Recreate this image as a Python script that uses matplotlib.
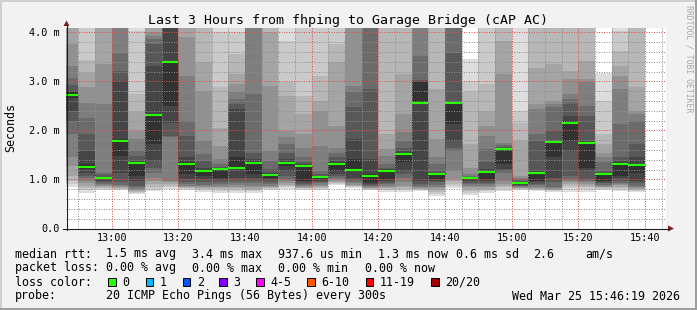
import matplotlib
matplotlib.use("Agg")
import matplotlib.pyplot as plt
from matplotlib.patches import Rectangle, Polygon
from matplotlib.ticker import FixedLocator, MultipleLocator
import numpy as np

plt.rcParams['font.family'] = 'DejaVu Sans Mono'

W, H = 697, 310

title = "Last 3 Hours from fhping to Garage Bridge (cAP AC)"

# one 5 minute slot per bar, first slot starts 12:45 (only partly shown)
first_slot = "12:45"
slot_minutes = 5
view_start = "12:46:19"
view_end = "15:46:19"

# the 20 sorted ping rtts of every slot, in ms (4.5 = above the top of the chart)
pings = [
    [0.84, 0.90, 0.97, 1.07, 1.28, 1.45, 1.92, 2.20, 2.40, 2.66, 2.78, 2.81, 2.93, 3.08, 3.32, 3.76, 4.5, 4.5, 4.5, 4.5],  # 12:45
    [0.73, 0.78, 0.82, 0.87, 0.92, 0.97, 1.03, 1.07, 1.14, 1.21, 1.31, 1.58, 1.92, 2.26, 2.57, 2.88, 3.18, 3.43, 4.5, 4.5],
    [0.79, 0.80, 0.82, 0.84, 0.86, 0.88, 0.90, 0.94, 0.97, 1.00, 1.04, 1.06, 1.09, 1.14, 2.54, 3.35, 4.5, 4.5, 4.5, 4.5],
    [0.78, 0.80, 0.81, 0.82, 0.84, 0.86, 0.89, 0.94, 1.14, 1.48, 1.82, 3.01, 3.22, 3.59, 4.5, 4.5, 4.5, 4.5, 4.5, 4.5],  # 13:00
    [0.70, 0.73, 0.75, 0.77, 0.78, 0.80, 0.84, 0.87, 0.97, 1.07, 1.33, 1.38, 1.48, 1.58, 1.82, 1.99, 2.37, 2.74, 4.03, 4.5],
    [0.77, 0.80, 0.85, 0.90, 0.97, 1.04, 1.14, 1.24, 1.38, 1.72, 2.33, 3.32, 3.76, 3.86, 3.93, 4.00, 4.5, 4.5, 4.5, 4.5],
    [0.80, 0.84, 0.87, 0.90, 0.94, 0.97, 1.86, 1.89, 2.16, 2.50, 3.39, 4.5, 4.5, 4.5, 4.5, 4.5, 4.5, 4.5, 4.5, 4.5],
    [0.78, 0.80, 0.82, 0.84, 0.85, 0.87, 0.90, 0.94, 1.01, 1.11, 1.35, 1.45, 1.89, 2.20, 3.11, 3.90, 4.5, 4.5, 4.5, 4.5],  # 13:20
    [0.75, 0.78, 0.80, 0.82, 0.84, 0.86, 0.89, 0.94, 1.00, 1.07, 1.20, 1.24, 1.38, 1.52, 1.79, 2.81, 3.39, 4.5, 4.5, 4.5],
    [0.73, 0.77, 0.80, 0.82, 0.85, 0.87, 0.90, 0.94, 0.99, 1.04, 1.20, 1.22, 1.26, 1.31, 1.41, 1.69, 2.06, 2.88, 4.00, 4.5],
    [0.73, 0.77, 0.80, 0.82, 0.85, 0.88, 0.92, 0.97, 1.04, 1.21, 1.45, 2.43, 2.54, 2.64, 2.78, 2.95, 3.15, 3.56, 4.00, 4.5],
    [0.73, 0.76, 0.78, 0.81, 0.84, 0.87, 0.92, 0.97, 1.04, 1.11, 1.33, 1.41, 1.55, 2.74, 4.5, 4.5, 4.5, 4.5, 4.5, 4.5],  # 13:40
    [0.78, 0.80, 0.82, 0.84, 0.85, 0.87, 0.90, 0.94, 0.99, 1.03, 1.11, 1.14, 1.21, 1.38, 1.58, 2.91, 4.00, 4.5, 4.5, 4.5],
    [0.80, 0.84, 0.86, 0.89, 0.92, 0.96, 1.00, 1.07, 1.18, 1.28, 1.36, 1.41, 1.55, 1.72, 1.86, 1.99, 2.71, 2.98, 3.83, 4.5],
    [0.79, 0.80, 0.82, 0.83, 0.84, 0.86, 0.88, 0.90, 0.94, 0.97, 1.26, 1.31, 1.35, 1.45, 1.65, 1.92, 2.33, 2.71, 4.5, 4.5],
    [0.79, 0.81, 0.83, 0.85, 0.87, 0.89, 0.92, 0.95, 0.97, 1.00, 1.05, 1.07, 1.11, 1.18, 1.69, 2.40, 2.60, 3.11, 4.5, 4.5],  # 14:00
    [0.88, 0.91, 0.93, 0.95, 0.97, 1.00, 1.03, 1.07, 1.12, 1.18, 1.31, 1.38, 1.45, 1.55, 1.65, 2.09, 3.39, 3.76, 4.5, 4.5],
    [0.83, 0.84, 0.86, 0.87, 0.89, 0.92, 0.95, 0.99, 1.04, 1.18, 1.41, 1.82, 2.47, 2.78, 2.91, 4.5, 4.5, 4.5, 4.5, 4.5],
    [0.78, 0.79, 0.80, 0.82, 0.83, 0.84, 0.86, 0.88, 0.90, 0.94, 1.11, 1.41, 2.84, 4.5, 4.5, 4.5, 4.5, 4.5, 4.5, 4.5],
    [0.75, 0.78, 0.80, 0.82, 0.84, 0.87, 0.90, 0.93, 0.97, 1.00, 1.18, 1.21, 1.24, 1.31, 1.48, 1.62, 1.92, 4.5, 4.5, 4.5],  # 14:20
    [0.75, 0.78, 0.81, 0.84, 0.87, 0.94, 1.04, 1.11, 1.18, 1.35, 1.53, 1.58, 1.65, 1.79, 1.96, 2.33, 3.15, 4.5, 4.5, 4.5],
    [0.76, 0.78, 0.80, 0.81, 0.83, 0.85, 0.87, 0.90, 0.97, 2.54, 2.98, 3.00, 3.03, 3.52, 4.5, 4.5, 4.5, 4.5, 4.5, 4.5],
    [0.67, 0.71, 0.75, 0.79, 0.82, 0.85, 0.89, 0.94, 0.97, 1.00, 1.11, 1.14, 1.18, 1.31, 1.45, 1.82, 2.84, 4.5, 4.5, 4.5],
    [0.82, 0.86, 0.90, 0.96, 1.00, 1.18, 1.58, 1.65, 1.79, 2.13, 2.55, 2.56, 3.59, 4.5, 4.5, 4.5, 4.5, 4.5, 4.5, 4.5],  # 14:40
    [0.69, 0.73, 0.77, 0.80, 0.84, 0.87, 0.90, 0.93, 0.96, 0.99, 1.03, 1.04, 1.05, 1.07, 1.12, 1.24, 1.72, 2.78, 3.01, 3.45],
    [0.73, 0.76, 0.79, 0.81, 0.84, 0.86, 0.90, 0.93, 0.97, 1.00, 1.16, 1.21, 1.35, 1.62, 1.89, 2.09, 2.40, 2.95, 4.5, 4.5],
    [0.77, 0.80, 0.84, 0.86, 0.90, 0.97, 1.14, 1.18, 1.21, 1.31, 1.61, 1.64, 1.67, 1.71, 1.75, 3.15, 3.83, 4.5, 4.5, 4.5],
    [0.78, 0.80, 0.81, 0.82, 0.83, 0.84, 0.86, 0.87, 0.88, 0.90, 0.93, 0.95, 0.97, 1.00, 1.03, 1.07, 1.79, 2.16, 2.40, 4.5],  # 15:00
    [0.77, 0.78, 0.80, 0.81, 0.83, 0.85, 0.88, 0.90, 0.94, 0.97, 1.13, 1.18, 1.79, 1.92, 2.43, 2.54, 3.28, 4.5, 4.5, 4.5],
    [0.75, 0.76, 0.78, 0.79, 0.80, 0.82, 0.84, 0.94, 1.04, 1.45, 1.75, 1.79, 1.99, 2.47, 2.54, 2.60, 3.35, 4.5, 4.5, 4.5],
    [0.75, 0.82, 0.86, 0.90, 0.94, 0.97, 1.00, 1.07, 1.58, 1.79, 2.20, 2.30, 2.54, 2.64, 2.74, 3.05, 3.22, 4.5, 4.5, 4.5],
    [0.75, 0.80, 0.84, 0.87, 0.90, 0.94, 0.97, 1.00, 1.18, 1.24, 1.75, 1.79, 2.30, 2.50, 2.98, 3.05, 3.42, 4.5, 4.5, 4.5],  # 15:20
    [0.79, 0.80, 0.82, 0.84, 0.85, 0.87, 0.89, 0.92, 0.95, 0.97, 1.12, 1.14, 1.18, 1.35, 1.45, 1.55, 1.72, 1.92, 2.60, 3.18],
    [0.77, 0.80, 0.82, 0.85, 0.88, 0.90, 0.93, 0.97, 1.03, 1.07, 1.33, 1.38, 1.45, 2.13, 2.84, 3.11, 3.32, 3.63, 4.03, 4.5],
    [0.75, 0.77, 0.78, 0.80, 0.82, 0.84, 0.87, 0.92, 0.97, 1.14, 1.31, 1.45, 1.72, 2.20, 2.33, 2.40, 2.88, 4.5, 4.5, 4.5],  # 15:35
]

median = [2.72, 1.25, 1.03, 1.78, 1.34, 2.32, 3.39, 1.32, 1.18, 1.21, 1.24, 1.34,
          1.09, 1.34, 1.28, 1.05, 1.32, 1.20, 1.07, 1.18, 1.52, 2.56, 1.11, 2.56,
          1.03, 1.16, 1.63, 0.93, 1.14, 1.77, 2.16, 1.75, 1.12, 1.32, 1.30]

xtick_labels = ["13:00", "13:20", "13:40", "14:00", "14:20", "14:40", "15:00", "15:20", "15:40"]
ytick_vals = [0, 1, 2, 3, 4]
ytick_labels = ["0.0", "1.0 m", "2.0 m", "3.0 m", "4.0 m"]
y_top = 4.09

rtt_stats = ["1.5 ms avg", "3.4 ms max", "937.6 us min", "1.3 ms now", "0.6 ms sd", "2.6", "am/s"]
loss_stats = ["0.00 % avg", "0.00 % max", "0.00 % min", "0.00 % now"]
loss_labels = ["0", "1", "2", "3", "4-5", "6-10", "11-19", "20/20"]
loss_colors = ["#26ff00", "#00b8ff", "#0059ff", "#7e00ff", "#ff00ff", "#ff5500", "#ff0000", "#a00000"]
probe_text = "20 ICMP Echo Pings (56 Bytes) every 300s"
stamp = "Wed Mar 25 15:46:19 2026"


def minutes(s):
    parts = [int(v) for v in s.split(":")]
    return parts[0] * 60 + parts[1] + (parts[2] / 60 if len(parts) > 2 else 0)


fig = plt.figure(figsize=(W / 100, H / 100), dpi=100, facecolor="#f2f2f2")
ax = fig.add_axes([66 / W, (H - 228.5) / H, 600 / W, 200.5 / H])
ax.set_facecolor("white")

p = np.array(pings)
edges = minutes(first_slot) + slot_minutes * np.arange(len(pings) + 1)

# smoke: outer pairs light, inner pairs dark
half = p.shape[1] // 2
for i in range(half):
    g = int(190 / half * (half - (i + 1))) + 50
    ax.stairs(p[:, -1 - i], edges, baseline=p[:, i], fill=True,
              color="#%02x%02x%02x" % (g, g, g), lw=0, zorder=1)

ax.stairs(median, edges, baseline=None, color="#202020", lw=0.72,
          ls=(0, (1, 1)), zorder=2)
ax.hlines(median, edges[:-1], edges[1:], color="#26ff00", lw=1.5, zorder=4)

ax.set_xlim(minutes(view_start), minutes(view_end))
ax.set_ylim(0, y_top)
ax.xaxis.set_major_locator(FixedLocator([minutes(s) for s in xtick_labels]))
ax.xaxis.set_minor_locator(MultipleLocator(5))
ax.set_xticklabels(xtick_labels)
ax.yaxis.set_major_locator(FixedLocator(ytick_vals))
ax.yaxis.set_minor_locator(MultipleLocator(0.2))
ax.set_yticklabels(ytick_labels)
ax.set_axisbelow(False)
ax.grid(which="minor", color=(0.56, 0.56, 0.56, 0.45), lw=0.72, ls=(0, (1, 1.5)))
ax.grid(which="major", color=(0.87, 0.31, 0.31, 0.35), lw=0.72, ls=(0, (1, 1.5)))
ax.tick_params(which="both", length=0, labelsize=7.3)
ax.tick_params(axis="x", pad=3.2)
ax.tick_params(axis="y", pad=4.8)
for s in ax.spines.values():
    s.set_visible(False)

# overlay in pixel coordinates for frame, axis arrows and legend
lay = fig.add_axes([0, 0, 1, 1], zorder=5)
lay.set_xlim(0, W)
lay.set_ylim(H, 0)
lay.axis("off")

lay.add_patch(Rectangle((0, 0), W, 2, color="#cfcfcf", lw=0))
lay.add_patch(Rectangle((0, 0), 2, H, color="#cfcfcf", lw=0))
lay.add_patch(Rectangle((0, H - 2), W, 2, color="#9e9e9e", lw=0))
lay.add_patch(Rectangle((W - 2, 0), 2, H, color="#9e9e9e", lw=0))

lay.plot([66.5, 66.5], [230, 25], color="#1f1f1f", lw=0.8)
lay.plot([63, 669], [228.5, 228.5], color="#1f1f1f", lw=0.8)
lay.add_patch(Polygon([[63.5, 26], [69.5, 26], [66.5, 20.5]], color="#801f1f", lw=0))
lay.add_patch(Polygon([[668, 225.5], [668, 231.5], [674, 228.5]], color="#801f1f", lw=0))

lay.text(W / 2, 24, title, fontsize=9.5, ha="center", va="baseline")
lay.text(10.5, 127.5, "Seconds", fontsize=8.4, rotation=90, ha="center", va="center")
lay.text(689, 5, "RRDTOOL / TOBI OETIKER", fontsize=5.9, rotation=270,
         ha="center", va="top", color="#a8a8a8")

fs = 8.4
lay.text(15, 257.5, "median rtt:", fontsize=fs, va="baseline")
for s, x in zip(rtt_stats, [106.3, 192.3, 278.3, 378.3, 455.7, 533.3, 585.7]):
    lay.text(x, 257.5, s, fontsize=fs, va="baseline")
lay.text(15, 271.5, "packet loss:", fontsize=fs, va="baseline")
for s, x in zip(loss_stats, [106.3, 192.3, 278.3, 364.7]):
    lay.text(x, 271.5, s, fontsize=fs, va="baseline")
lay.text(15, 285.5, "loss color:", fontsize=fs, va="baseline")
box_x = [108.3, 145.7, 182.7, 219.3, 256, 307.3, 365.7, 431]
for lab, col, x in zip(loss_labels, loss_colors, box_x):
    lay.add_patch(Rectangle((x, 278.3), 7.7, 7.7, facecolor=col, edgecolor="black", lw=0.72))
    lay.text(x + 14, 285.5, lab, fontsize=fs, va="baseline")
lay.text(15, 299.5, "probe:", fontsize=fs, va="baseline")
lay.text(106.3, 299.5, probe_text, fontsize=fs, va="baseline")
lay.text(512.3, 299.5, stamp, fontsize=fs, va="baseline")

fig.savefig("out.png", dpi=100, facecolor=fig.get_facecolor())
